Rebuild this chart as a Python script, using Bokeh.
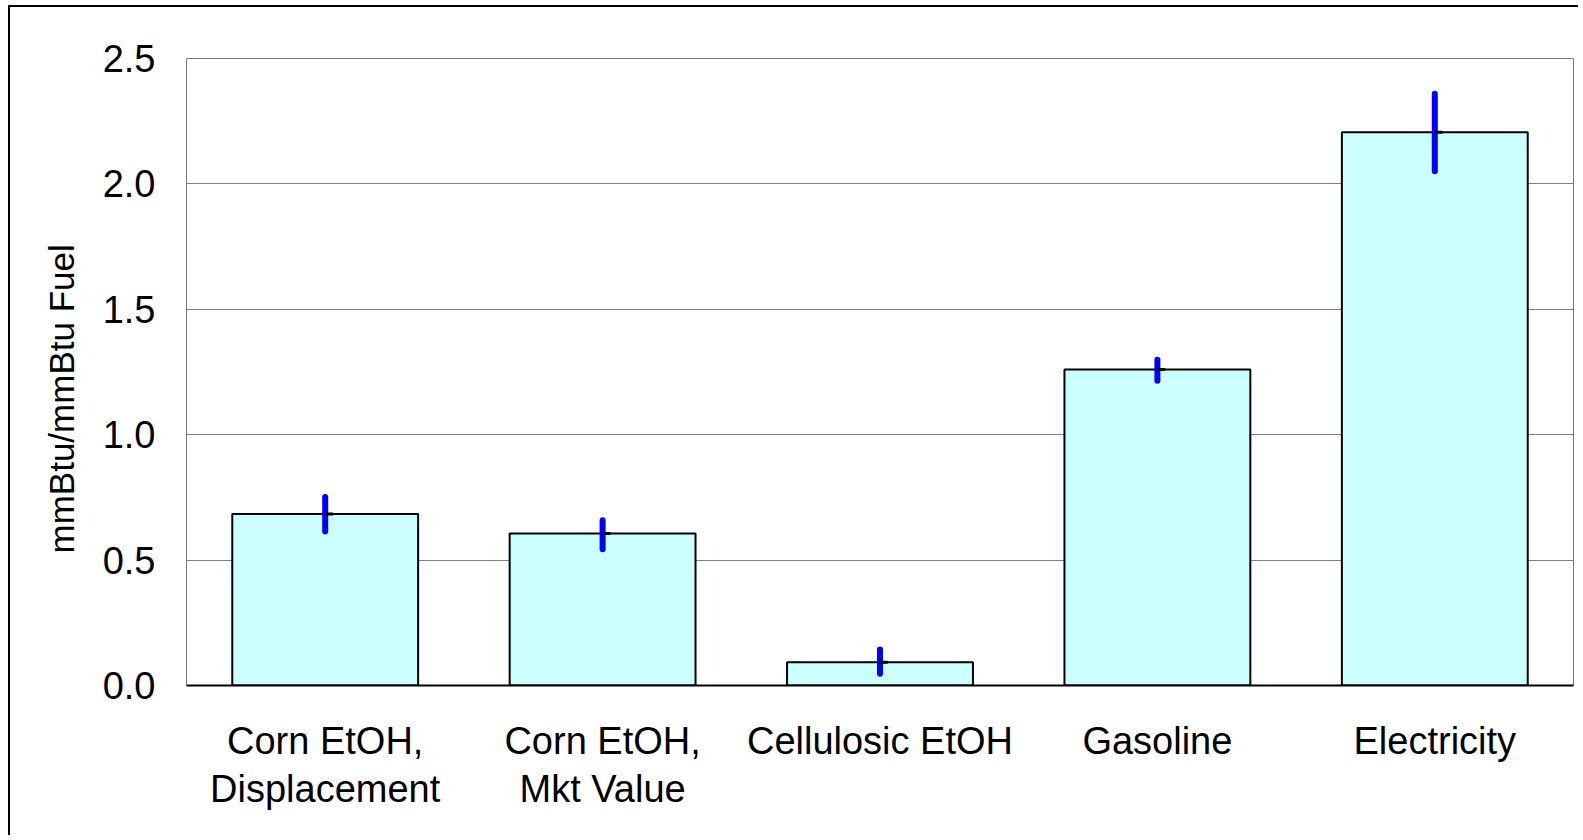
from bokeh.plotting import figure
from bokeh.models import ColumnDataSource, FixedTicker, NumeralTickFormatter, Title
from bokeh.transform import dodge
from bokeh.embed import file_html
from bokeh.resources import INLINE

categories = ["Corn EtOH,\nDisplacement", "Corn EtOH,\nMkt Value", "Cellulosic EtOH", "Gasoline", "Electricity"]
values = [0.684, 0.606, 0.093, 1.260, 2.206]
err_low = [0.614, 0.543, 0.047, 1.215, 2.050]
err_high = [0.752, 0.659, 0.144, 1.299, 2.359]
y_ticks = [0.0, 0.5, 1.0, 1.5, 2.0, 2.5]
y_title = "mmBtu/mmBtu Fuel"

src = ColumnDataSource(dict(cat=categories, val=values, lo=err_low, hi=err_high))

FONT = "Liberation Sans"

p = figure(x_range=categories, y_range=(0, 2.5), width=1570, height=830,
           output_backend="svg", toolbar_location=None,
           min_border_left=176, min_border_top=51, min_border_right=7, min_border_bottom=152,
           styles={"border-left": "2px solid black", "border-top": "2px solid black",
                   "margin-left": "8px", "margin-top": "5px"})

p.vbar(x="cat", top="val", bottom=0, width=0.67, source=src,
       fill_color="#CCFFFF", line_color="black", line_width=2)
p.segment(x0="cat", y0="lo", x1="cat", y1="hi", source=src,
          line_color="#0000FF", line_width=6, line_cap="round")
p.segment(x0=dodge("cat", 0.0, range=p.x_range), y0="val",
          x1=dodge("cat", 0.028, range=p.x_range), y1="val", source=src,
          line_color="black", line_width=3)

p.outline_line_color = "#777777"
p.outline_line_width = 1
p.background_fill_color = "white"
p.border_fill_color = "white"

p.xgrid.grid_line_color = None
p.ygrid.grid_line_color = "#808080"
p.ygrid.grid_line_width = 1
p.ygrid.ticker = FixedTicker(ticks=y_ticks)

p.yaxis.ticker = FixedTicker(ticks=y_ticks)
p.yaxis.formatter = NumeralTickFormatter(format="0.0")
p.yaxis.major_tick_line_color = None
p.yaxis.minor_tick_line_color = None
p.yaxis.axis_line_color = "#777777"
p.yaxis.major_label_standoff = 25
p.yaxis.major_label_text_font = FONT
p.yaxis.major_label_text_font_size = "38px"
p.yaxis.major_label_text_color = "black"

t = Title(text=y_title, align="left", offset=132, vertical_align="top", text_font=FONT,
          text_font_size="35px", text_font_style="normal", text_color="black",
          standoff=34)
p.add_layout(t, "left")

p.xaxis.major_tick_line_color = None
p.xaxis.minor_tick_line_color = None
p.xaxis.axis_line_color = "black"
p.xaxis.axis_line_width = 2
p.xaxis.major_label_standoff = 28
p.xaxis.major_label_text_font = FONT
p.xaxis.major_label_text_font_size = "38px"
p.xaxis.major_label_text_color = "black"
p.xaxis.major_label_text_line_height = 1.15

open("out.html", "w").write(file_html(p, INLINE))
